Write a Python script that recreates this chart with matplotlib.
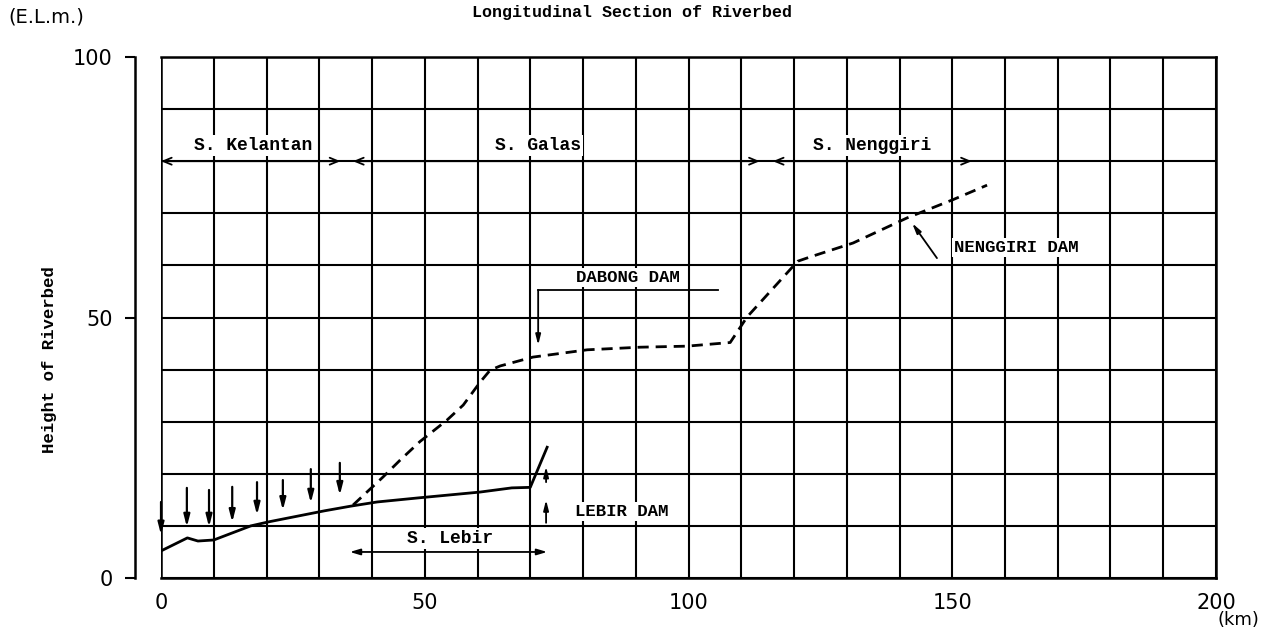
import matplotlib.pyplot as plt
from matplotlib.ticker import MultipleLocator

# Riverbed profiles (km, E.L.m.)
kelantan_lebir_km = [0, 5, 7, 10, 17, 20.5, 29, 31, 36, 41, 49, 60.5, 66.5, 70, 73.2]
kelantan_lebir_el = [5.2, 7.7, 7.1, 7.3, 10.0, 10.8, 12.5, 12.9, 13.8, 14.6, 15.4, 16.5, 17.3, 17.4, 25.1]

galas_nenggiri_km = [36.4, 42.1, 45.3, 49.1, 54.2, 57.3, 60.5, 62.4, 64.3, 70.5, 80.8,
                     90.8, 99.7, 107.9, 111.1, 120.7, 123, 131.2, 141.4, 150.1, 156.6]
galas_nenggiri_el = [14.0, 19.4, 22.6, 26.2, 30.3, 33.2, 37.6, 39.9, 40.7, 42.4, 43.8,
                     44.3, 44.5, 45.2, 50.1, 60.8, 61.6, 64.3, 69.1, 72.6, 75.4]

# Tributary arrows along S. Kelantan
trib_km = [0, 4.9, 9.1, 13.5, 18.2, 23.1, 28.4, 33.9]
trib_top = [14.6, 17.3, 16.9, 17.5, 18.4, 18.8, 20.9, 22.1]
trib_bottom = [8.3, 9.8, 9.8, 10.7, 12.1, 13.0, 14.4, 15.9]

# River sections shown on top of the chart
section_names = ["S. Kelantan", "S. Galas", "S. Nenggiri"]
section_start = [0, 36.4, 116]
section_end = [34, 113.5, 153.7]
section_label_x = [17.5, 71.5, 134.8]

x_ticks = [0, 50, 100, 150, 200]
y_ticks = [0, 50, 100]

mono = "Liberation Mono"
sans = "DejaVu Sans"
white_box = dict(facecolor="white", edgecolor="none", pad=1.5)

fig = plt.figure(figsize=(12.85, 6.34), dpi=100)
ax = fig.add_axes([0.1253, 0.0883, 0.8210, 0.8218])

ax.set_xlim(0, 200)
ax.set_ylim(0, 100)
ax.xaxis.set_major_locator(MultipleLocator(50))
ax.xaxis.set_minor_locator(MultipleLocator(10))
ax.yaxis.set_major_locator(MultipleLocator(50))
ax.yaxis.set_minor_locator(MultipleLocator(10))
ax.grid(which="both", color="black", lw=1.5)
ax.set_axisbelow(True)

ax.set_xticks(x_ticks)
ax.set_yticks(y_ticks)
ax.tick_params(axis="x", which="both", length=0, pad=11, labelsize=15)
ax.tick_params(axis="y", which="major", length=7, width=1.5, pad=9, labelsize=15)
ax.tick_params(axis="y", which="minor", length=0)
for lab in ax.get_xticklabels() + ax.get_yticklabels():
    lab.set_family(sans)

for side in ["top", "right", "bottom"]:
    ax.spines[side].set_linewidth(1.8)
ax.spines["left"].set_position(("outward", 19))
ax.spines["left"].set_linewidth(1.8)
ax.axvline(0, color="black", lw=1.8)

# profiles
ax.plot(kelantan_lebir_km, kelantan_lebir_el, color="black", lw=2)
ax.plot(galas_nenggiri_km, galas_nenggiri_el, color="black", lw=2, ls=(0, (4, 2.5)))

# tributary arrows
for xk, top, bot in zip(trib_km, trib_top, trib_bottom):
    ax.annotate("", xy=(xk, bot), xytext=(xk, top),
                arrowprops=dict(arrowstyle="-|>,head_length=0.7,head_width=0.18",
                                color="black", lw=1.6, shrinkA=0, shrinkB=0))

# section arrows
for name, x0, x1, xl in zip(section_names, section_start, section_end, section_label_x):
    ax.annotate("", xy=(x1, 80), xytext=(x0, 80),
                arrowprops=dict(arrowstyle="<->,head_length=0.6,head_width=0.25",
                                color="black", lw=1.3, shrinkA=0, shrinkB=0))
    ax.text(xl, 83, name, family=mono, weight="bold", fontsize=13,
            ha="center", va="center", bbox=white_box)

# S. Lebir
ax.annotate("", xy=(73.2, 5.0), xytext=(35.8, 5.0),
            arrowprops=dict(arrowstyle="<|-|>,head_length=0.6,head_width=0.18",
                            color="black", lw=1.3, shrinkA=0, shrinkB=0))
ax.text(54.8, 7.6, "S. Lebir", family=mono, weight="bold", fontsize=13,
        ha="center", va="center", bbox=white_box)

# Lebir dam
for y0, y1 in [(10.6, 15.0), (18.4, 21.4)]:
    ax.annotate("", xy=(73, y1), xytext=(73, y0),
                arrowprops=dict(arrowstyle="-|>,head_length=0.6,head_width=0.15",
                                color="black", lw=1.3, shrinkA=0, shrinkB=0))
ax.text(78.5, 12.7, "LEBIR DAM", family=mono, weight="bold", fontsize=12.5,
        ha="left", va="center", bbox=white_box)

# Dabong dam
ax.plot([105.6, 71.5], [55.3, 55.3], color="black", lw=1.3)
ax.annotate("", xy=(71.5, 44.7), xytext=(71.5, 55.3),
            arrowprops=dict(arrowstyle="-|>,head_length=0.6,head_width=0.15",
                            color="black", lw=1.3, shrinkA=0, shrinkB=0))
ax.text(88.5, 57.6, "DABONG DAM", family=mono, weight="bold", fontsize=12.5,
        ha="center", va="center", bbox=white_box)

# Nenggiri dam
ax.annotate("", xy=(142.4, 68.1), xytext=(147.1, 61.4),
            arrowprops=dict(arrowstyle="-|>,head_length=0.6,head_width=0.15",
                            color="black", lw=1.3, shrinkA=0, shrinkB=0))
ax.text(162.1, 63.5, "NENGGIRI DAM", family=mono, weight="bold", fontsize=12.5,
        ha="center", va="center", bbox=white_box)

# figure texts
fig.text(632 / 1285, 1 - 13 / 634, "Longitudinal Section of Riverbed",
         family=mono, weight="bold", fontsize=12, ha="center", va="center")
fig.text(8 / 1285, 1 - 17 / 634, "(E.L.m.)", family=sans,
         fontsize=14, ha="left", va="center")
fig.text(50 / 1285, 1 - 360 / 634, "Height of Riverbed", family=mono,
         weight="bold", fontsize=12.5, rotation=90, ha="center", va="center")
fig.text(1238 / 1285, 1 - 620 / 634, "(km)", family=sans, fontsize=13,
         ha="center", va="center")

fig.savefig("out.png", dpi=100)
